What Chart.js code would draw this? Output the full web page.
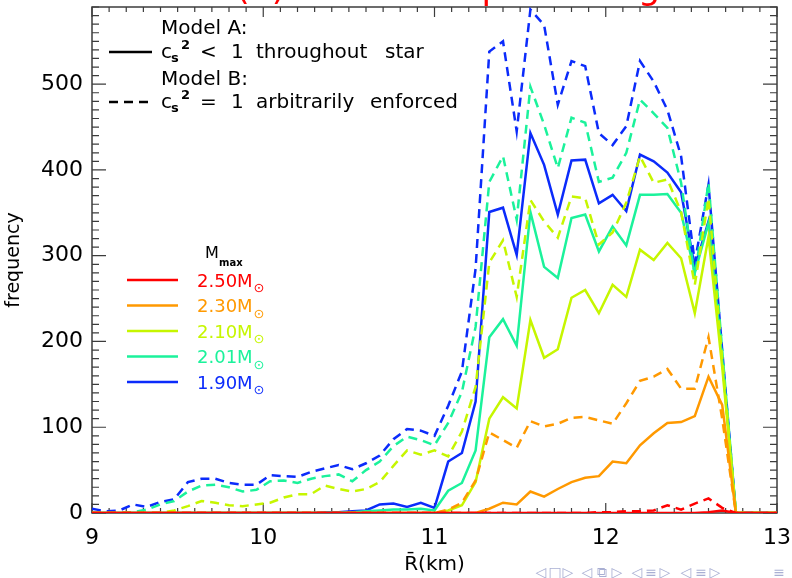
<!DOCTYPE html>
<html>
<head>
<meta charset="utf-8">
<script src="https://cdn.jsdelivr.net/npm/chart.js@4.4.1/dist/chart.umd.min.js"></script>
<style>
  html, body { margin: 0; padding: 0; background: #fff; }
  #wrap { width: 792px; height: 578px; }
</style>
</head>
<body>
<div id="wrap"><canvas id="histo" width="792" height="578"></canvas></div>
<script>
// bin positions of the mean radius (km)
const radius = [
  9.00, 9.08, 9.16, 9.24, 9.32, 9.40, 9.48, 9.56, 9.64, 9.72,
  9.80, 9.88, 9.96, 10.04, 10.12, 10.20, 10.28, 10.36, 10.44, 10.52,
  10.60, 10.68, 10.76, 10.84, 10.92, 11.00, 11.08, 11.16, 11.24, 11.32,
  11.40, 11.48, 11.56, 11.64, 11.72, 11.80, 11.88, 11.96, 12.04, 12.12,
  12.20, 12.28, 12.36, 12.44, 12.52, 12.60, 12.68, 12.76, 12.84, 12.92, 13.00
];
const xTicks = [9, 10, 11, 12, 13];
const yTicks = [0, 100, 200, 300, 400, 500];

// model A (cs^2 < 1) counts, one list per Mmax
const m250A = [
  0, 0, 0, 0, 0, 0, 0, 0, 0, 0,
  0, 0, 0, 0, 0, 0, 0, 0, 0, 0,
  0, 0, 0, 0, 0, 0, 0, 0, 0, 0,
  0, 0, 0, 0, 0, 0, 0, 0, 0, 0,
  0, 0, 0, 0, 0, 1, 3, 0, 0, 0, 0
];
const m230A = [
  0, 0, 0, 0, 0, 0, 0, 0, 0, 0,
  0, 0, 0, 0, 0, 0, 0, 0, 0, 0,
  0, 0, 0, 0, 0, 0, 0, 0, 0, 5,
  12, 10, 25, 19, 28, 36, 41, 43, 60, 58,
  79, 93, 105, 106, 113, 159, 126, 0, 0, 0, 0
];
const m210A = [
  0, 0, 0, 0, 0, 0, 0, 0, 0, 0,
  0, 0, 0, 0, 0, 0, 0, 0, 0, 0,
  0, 0, 0, 0, 0, 0, 3, 9, 36, 110,
  135, 122, 225, 181, 191, 251, 260, 233, 266, 252,
  307, 295, 315, 297, 233, 322, 170, 0, 0, 0, 0
];
const m201A = [
  0, 0, 0, 0, 0, 0, 0, 0, 0, 0,
  0, 0, 0, 0, 0, 0, 0, 0, 0, 1,
  2, 3, 4, 4, 5, 3, 26, 35, 73, 205,
  226, 195, 351, 287, 274, 344, 348, 305, 334, 312,
  371, 371, 372, 350, 280, 338, 180, 0, 0, 0, 0
];
const m190A = [
  0, 0, 0, 0, 0, 0, 0, 0, 0, 0,
  0, 0, 0, 0, 0, 0, 0, 1, 1, 2,
  3, 10, 11, 7, 12, 6, 60, 70, 130, 351,
  356, 301, 443, 406, 348, 411, 412, 361, 371, 352,
  418, 410, 397, 374, 286, 340, 180, 0, 0, 0, 0
];

// model B (cs^2 = 1 enforced) counts
const m250B = [
  0, 0, 0, 0, 0, 0, 0, 0, 0, 0,
  0, 0, 0, 0, 0, 0, 0, 0, 0, 0,
  0, 0, 0, 0, 0, 0, 0, 0, 0, 0,
  0, 0, 0, 0, 0, 0, 0, 1, 1, 2,
  2, 3, 9, 4, 11, 17, 6, 0, 0, 0, 0
];
const m230B = [
  0, 0, 0, 0, 0, 0, 0, 0, 0, 0,
  0, 0, 0, 0, 0, 0, 0, 0, 0, 0,
  0, 0, 0, 0, 0, 0, 4, 12, 38, 94,
  85, 76, 107, 101, 104, 111, 112, 108, 104, 128,
  154, 159, 168, 145, 145, 205, 110, 0, 0, 0, 0
];
const m210B = [
  0, 0, 0, 0, 0, 0, 3, 8, 14, 12,
  9, 8, 10, 12, 18, 22, 22, 32, 28, 25,
  28, 36, 55, 73, 68, 73, 66, 95, 147, 292,
  318, 252, 365, 340, 321, 369, 367, 313, 327, 362,
  416, 385, 389, 351, 266, 367, 180, 0, 0, 0, 0
];
const m201B = [
  0, 0, 0, 1, 4, 10, 14, 25, 32, 33,
  30, 25, 27, 37, 38, 35, 40, 43, 45, 37,
  50, 60, 78, 89, 85, 79, 105, 141, 217, 386,
  416, 342, 497, 453, 402, 461, 455, 386, 391, 420,
  482, 466, 449, 385, 276, 385, 190, 0, 0, 0, 0
];
const m190B = [
  5, 2, 3, 10, 7, 13, 16, 36, 40, 40,
  35, 33, 33, 44, 43, 42, 48, 52, 56, 51,
  58, 67, 86, 98, 96, 90, 125, 165, 285, 538,
  550, 445, 587, 569, 476, 527, 521, 443, 429, 451,
  527, 503, 470, 416, 292, 383, 190, 0, 0, 0, 0
];

const massLabels = ['2.50', '2.30', '2.10', '2.01', '1.90'];
const massColors = ['#ff0000', '#ff9900', '#c6f600', '#1bf29b', '#0b2bfb'];
const seriesA = [m250A, m230A, m210A, m201A, m190A];
const seriesB = [m250B, m230B, m210B, m201B, m190B];

const FONT = '"DejaVu Sans", sans-serif';

function toPoints(vals) {
  return radius.map((r, i) => ({ x: r, y: vals[i] }));
}

// red first so it sits on top of the others along the zero line
const datasets = [];
massLabels.forEach((m, i) => {
  datasets.push({
    label: m + ' A',
    data: toPoints(seriesA[i]),
    borderColor: massColors[i],
    borderWidth: 2.5,
    pointRadius: 0,
    tension: 0
  });
  datasets.push({
    label: m + ' B',
    data: toPoints(seriesB[i]),
    borderColor: massColors[i],
    borderWidth: 2.5,
    borderDash: [9, 6],
    pointRadius: 0,
    tension: 0
  });
});

// IDL style box with inward ticks on all four sides
const frameTicks = {
  id: 'frameTicks',
  beforeDatasetsDraw(chart) {
    const { ctx, chartArea: a, scales: { x, y } } = chart;
    ctx.save();
    ctx.strokeStyle = '#3c3c3c';
    ctx.lineWidth = 1.5;
    ctx.strokeRect(a.left, a.top, a.right - a.left, a.bottom - a.top);
    ctx.lineWidth = 1.2;
    ctx.beginPath();
    for (let i = 0; i <= 40; i++) {
      const px = x.getPixelForValue(9 + i / 10);
      const len = i % 10 === 0 ? 10 : 5;
      ctx.moveTo(px, a.bottom); ctx.lineTo(px, a.bottom - len);
      ctx.moveTo(px, a.top); ctx.lineTo(px, a.top + len);
    }
    for (let v = 0; v <= 590; v += 10) {
      const py = y.getPixelForValue(v);
      const len = v % 100 === 0 ? 14 : 7;
      ctx.moveTo(a.left, py); ctx.lineTo(a.left + len, py);
      ctx.moveTo(a.right, py); ctx.lineTo(a.right - len, py);
    }
    ctx.stroke();
    ctx.restore();
  }
};

function csLine(ctx, base, words) {
  ctx.font = '20px ' + FONT;
  ctx.fillText('c', 161, base);
  ctx.font = 'bold 13px ' + FONT;
  ctx.fillText('s', 171, base + 4);
  ctx.fillText('2', 181, base - 9);
  ctx.font = '20px ' + FONT;
  words.forEach(([t, x]) => ctx.fillText(t, x, base));
}

const annotations = {
  id: 'annotations',
  afterDraw(chart) {
    const ctx = chart.ctx;
    ctx.save();
    ctx.textAlign = 'left';
    ctx.textBaseline = 'alphabetic';

    // panel title running off the top of the slide
    ctx.fillStyle = '#ff0000';
    ctx.font = '35px ' + FONT;
    ctx.fillText('(b) Effect on speed range', 236, -1.5);

    // line style key
    ctx.fillStyle = '#000';
    ctx.strokeStyle = '#000';
    ctx.lineWidth = 2.5;
    ctx.font = '20px ' + FONT;
    ctx.fillText('Model A:', 161, 34);
    csLine(ctx, 58, [['<', 200], ['1', 231], ['throughout', 256], ['star', 385]]);
    ctx.fillText('Model B:', 161, 85);
    csLine(ctx, 108, [['=', 200], ['1', 231], ['arbitrarily', 256], ['enforced', 370]]);
    ctx.beginPath();
    ctx.moveTo(109, 52); ctx.lineTo(152, 52);
    ctx.stroke();
    ctx.setLineDash([9, 6]);
    ctx.beginPath();
    ctx.moveTo(109, 102); ctx.lineTo(152, 102);
    ctx.stroke();
    ctx.setLineDash([]);

    // Mmax colour key
    ctx.font = '16px ' + FONT;
    ctx.fillText('M', 205, 258);
    ctx.font = 'bold 10px ' + FONT;
    ctx.fillText('max', 219, 266);
    massLabels.forEach((m, i) => {
      const ly = 280 + 25.5 * i;
      ctx.strokeStyle = massColors[i];
      ctx.fillStyle = massColors[i];
      ctx.beginPath();
      ctx.moveTo(127, ly); ctx.lineTo(178, ly);
      ctx.stroke();
      ctx.font = '18px ' + FONT;
      const t = m + 'M';
      ctx.fillText(t, 197, ly + 6.5);
      const w = ctx.measureText(t).width;
      ctx.font = '13px ' + FONT;
      ctx.fillText('\u2299', 197 + w + 1, ly + 12);
    });

    // slide navigation symbols
    ctx.fillStyle = '#a9afd3';
    ctx.font = '14px ' + FONT;
    ctx.textAlign = 'center';
    ctx.textBaseline = 'middle';
    [['\u25C1', 541], ['\u25A1', 555], ['\u25B7', 568],
     ['\u25C1', 587], ['\u29C9', 602], ['\u25B7', 617],
     ['\u25C1', 637], ['\u2261', 651], ['\u25B7', 665],
     ['\u25C1', 686], ['\u2261', 701], ['\u25B7', 715],
     ['\u2261', 779]].forEach(([g, x]) => ctx.fillText(g, x, 573));
    ctx.restore();
  }
};

new Chart(document.getElementById('histo'), {
  type: 'line',
  data: { datasets: datasets },
  options: {
    responsive: false,
    animation: false,
    devicePixelRatio: 1,
    layout: { padding: { top: 7, right: 15, left: 0, bottom: 0 } },
    plugins: { legend: { display: false }, tooltip: { enabled: false } },
    scales: {
      x: {
        type: 'linear',
        min: 9,
        max: 13,
        ticks: { padding: 0, color: '#000', maxRotation: 0, autoSkip: false,
                 font: { family: FONT, size: 22 } },
        afterBuildTicks(s) { s.ticks = xTicks.map(v => ({ value: v })); },
        grid: { display: false, drawTicks: true, tickLength: 12 },
        border: { display: false },
        title: { display: true, text: 'R\u0304(km)', color: '#000',
                 font: { family: FONT, size: 20 }, padding: { top: 0, bottom: 1 } },
        afterFit(s) { s.height = 65; s.paddingLeft = 0; s.paddingRight = 0; }
      },
      y: {
        min: 0,
        max: 590,
        ticks: { padding: 0, color: '#000', font: { family: FONT, size: 22 } },
        afterBuildTicks(s) { s.ticks = yTicks.map(v => ({ value: v })); },
        grid: { display: false, drawTicks: true, tickLength: 9 },
        border: { display: false },
        title: { display: true, text: 'frequency', color: '#000',
                 font: { family: FONT, size: 19 }, padding: { top: 3, bottom: 0 } },
        afterFit(s) { s.width = 92; s.paddingTop = 0; s.paddingBottom = 0; }
      }
    }
  },
  plugins: [frameTicks, annotations]
});
</script>
</body>
</html>
